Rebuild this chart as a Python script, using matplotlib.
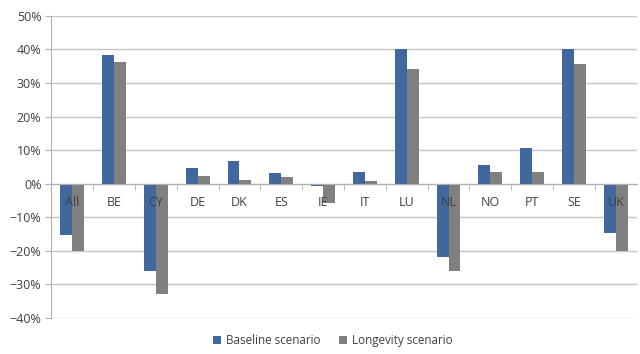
import numpy as np
import matplotlib.pyplot as plt
from matplotlib.ticker import PercentFormatter, FixedLocator

plt.rcParams['font.family'] = ['Open Sans', 'DejaVu Sans']

countries = ["All", "BE", "CY", "DE", "DK", "ES", "IE", "IT", "LU", "NL", "NO", "PT", "SE", "UK"]
baseline = [-15.3, 38.3, -26.0, 4.7, 6.8, 3.2, -0.6, 3.5, 40.0, -21.8, 5.7, 10.5, 40.0, -14.7]
longevity = [-20.0, 36.2, -33.0, 2.4, 1.0, 2.0, -5.7, 0.7, 34.3, -25.9, 3.5, 3.5, 35.8, -20.0]

blue = "#41689c"
grey = "#808080"
text_col = "#404040"

fig = plt.figure(figsize=(6.4, 3.54), dpi=100)
ax = fig.add_axes([0.08, 0.102, 0.915, 0.853])

x = np.arange(len(countries))
w = 0.285
ax.bar(x - w / 2, baseline, w, color=blue, label="Baseline scenario", zorder=1)
ax.bar(x + w / 2, longevity, w, color=grey, label="Longevity scenario", zorder=1)

ax.set_xlim(-0.5, len(countries) - 0.5)
ax.set_ylim(-40, 50)
yt = np.arange(-40, 51, 10)
ax.set_yticks(yt)
ax.yaxis.set_major_formatter(PercentFormatter(decimals=0))
for v in yt:
    ax.axhline(v, color="#c6c6c6", lw=1, zorder=0)

# category axis sits on the zero line
ax.spines['bottom'].set_position(('data', 0))
for s in ['top', 'right']:
    ax.spines[s].set_visible(False)
ax.spines['left'].set_color("#b0b0b0")
ax.spines['bottom'].set_color("#b0b0b0")
ax.set_xticks(x)
ax.set_xticklabels(countries)
ax.xaxis.set_minor_locator(FixedLocator(np.arange(0.5, len(countries) - 0.5, 1)))
ax.tick_params(axis='x', which='major', length=0, pad=9, labelsize=9, labelcolor=text_col)
ax.tick_params(axis='x', which='minor', length=4, color="#b0b0b0", direction='out')
ax.tick_params(axis='y', length=4, color="#b0b0b0", labelsize=9, labelcolor=text_col, pad=3)

fig.legend(loc='lower center', bbox_to_anchor=(0.52, -0.01), ncol=2, frameon=False,
           fontsize=8.4, handlelength=0.7, handleheight=0.7, handletextpad=0.4,
           columnspacing=1.6, labelcolor=text_col)

fig.savefig("out.png", dpi=100)
